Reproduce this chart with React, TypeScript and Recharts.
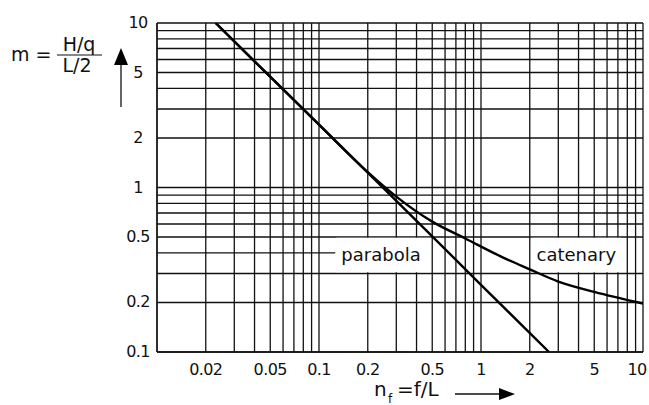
import React from 'react';
import {
  LineChart,
  Line,
  XAxis,
  YAxis,
  CartesianGrid,
  ReferenceArea,
  ReferenceLine,
} from 'recharts';

// grid positions (log-log paper)
const xTicks = [
  0.01, 0.02, 0.03, 0.04, 0.05, 0.06, 0.07, 0.08, 0.09, 0.1, 0.2, 0.3, 0.4,
  0.5, 0.6, 0.7, 0.8, 0.9, 1, 2, 3, 4, 5, 6, 7, 8, 9, 10,
];
const xLabels = [0.02, 0.05, 0.1, 0.2, 0.5, 1, 2, 5, 10];
const yTicks = [
  0.1, 0.2, 0.3, 0.5, 0.6, 0.7, 0.8, 0.9, 1, 2, 3, 4, 5, 6, 7, 8, 9, 10,
];
const yLabels = [0.1, 0.2, 0.5, 1, 2, 5, 10];

// parabola
const parabolaN = [0.023, 0.04, 0.1, 0.2, 0.5, 1, 2.63];
const parabolaM = [10, 5.85, 2.41, 1.23, 0.505, 0.256, 0.1];

// catenary
const catenaryN = [0.023, 0.04, 0.1, 0.2, 0.3, 0.5, 0.8, 1.37, 2, 3, 5, 10];
const catenaryM = [10, 5.85, 2.41, 1.24, 0.88, 0.62, 0.49, 0.375, 0.318, 0.268, 0.232, 0.197];

const parabola = parabolaN.map((n, i) => ({ n, m: parabolaM[i] }));
const catenary = catenaryN.map((n, i) => ({ n, m: catenaryM[i] }));

const FONT = '"DejaVu Sans", Verdana, sans-serif';
const INK = '#111';

const XTick = ({ x, y, payload }: any) => {
  if (!xLabels.includes(payload.value)) return null;
  const shift = payload.value === 10 ? -6 : 0;
  return (
    <text
      x={x + shift}
      y={y + 21}
      textAnchor="middle"
      fontSize={16}
      letterSpacing={-0.6}
      fontFamily={FONT}
      fill={INK}
    >
      {payload.value}
    </text>
  );
};

const YTick = ({ x, y, payload }: any) => {
  if (!yLabels.includes(payload.value)) return null;
  return (
    <text
      x={x - 17}
      y={y + 5}
      textAnchor="middle"
      fontSize={16}
      letterSpacing={-0.6}
      fontFamily={FONT}
      fill={INK}
    >
      {payload.value}
    </text>
  );
};

const BoxLabel = ({ viewBox, value, offset }: any) => (
  <text
    x={viewBox.x + offset}
    y={viewBox.y + viewBox.height / 2 + 6}
    fontSize={18}
    fontFamily={FONT}
    fill={INK}
  >
    {value}
  </text>
);

export default function App() {
  return (
    <div style={{ position: 'absolute', left: 0, top: 0, width: 649, height: 405, background: '#fff' }}>
      <LineChart
        width={649}
        height={405}
        margin={{ top: 23, right: 6, bottom: 23, left: 0 }}
      >
        <CartesianGrid stroke={INK} strokeWidth={1.3} />
        <XAxis
          dataKey="n"
          type="number"
          scale="log"
          domain={[0.01, 10]}
          ticks={xTicks}
          tick={<XTick />}
          tickLine={false}
          tickSize={0}
          axisLine={{ stroke: INK, strokeWidth: 1.3 }}
          height={30}
          allowDataOverflow
          interval={0}
        />
        <YAxis
          dataKey="m"
          type="number"
          scale="log"
          domain={[0.1, 10]}
          ticks={yTicks}
          tick={<YTick />}
          tickLine={false}
          tickSize={0}
          axisLine={{ stroke: INK, strokeWidth: 1.3 }}
          width={157}
          allowDataOverflow
          interval={0}
        />
        <ReferenceLine
          segment={[
            { x: 0.01, y: 0.4 },
            { x: 0.126, y: 0.4 },
          ]}
          stroke={INK}
          strokeWidth={1.3}
        />
        <ReferenceArea
          x1={0.128}
          x2={0.49}
          y1={0.305}
          y2={0.495}
          fill="#fff"
          fillOpacity={1}
          stroke="none"
          label={<BoxLabel value="parabola" offset={12} />}
        />
        <ReferenceArea
          x1={2.05}
          x2={7.3}
          y1={0.305}
          y2={0.495}
          fill="#fff"
          fillOpacity={1}
          stroke="none"
          label={<BoxLabel value="catenary" offset={5} />}
        />
        <Line
          data={parabola}
          dataKey="m"
          type="linear"
          stroke="#000"
          strokeWidth={2.4}
          dot={false}
          isAnimationActive={false}
        />
        <Line
          data={catenary}
          dataKey="m"
          type="monotone"
          stroke="#000"
          strokeWidth={2.4}
          dot={false}
          isAnimationActive={false}
        />
      </LineChart>
      <svg
        width={649}
        height={405}
        style={{ position: 'absolute', left: 0, top: 0, pointerEvents: 'none' }}
        fontFamily={FONT}
        fill={INK}
      >
        <text x={11} y={61} fontSize={19}>m =</text>
        <text x={79} y={51} fontSize={19} textAnchor="middle">H/q</text>
        <line x1={57} y1={55} x2={102} y2={55} stroke={INK} strokeWidth={1.2} />
        <text x={77} y={72} fontSize={19} textAnchor="middle">L/2</text>
        <line x1={121} y1={107} x2={121} y2={63} stroke={INK} strokeWidth={1.3} />
        <polygon points="114,65 128,65 121,48" fill="#000" />
        <text x={374} y={396} fontSize={20}>n</text>
        <text x={388} y={403} fontSize={12}>f</text>
        <text x={397} y={396} fontSize={20}>=f/L</text>
        <line x1={455} y1={394} x2={501} y2={394} stroke={INK} strokeWidth={1.3} />
        <polygon points="499,388 499,400 515,394" fill="#000" />
      </svg>
    </div>
  );
}
